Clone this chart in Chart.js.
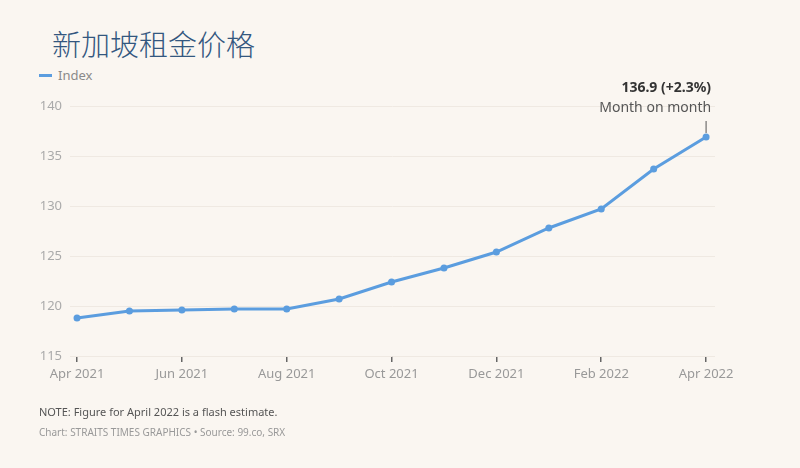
<!DOCTYPE html>
<html>
<head>
<meta charset="utf-8">
<script src="https://cdn.jsdelivr.net/npm/chart.js@4"></script>
<style>
  html, body { margin: 0; padding: 0; background: #faf6f1; }
  #wrap { position: relative; width: 800px; height: 468px; overflow: hidden; }
  #title { position: absolute; left: 52px; top: 22px; font-family: "Noto Sans CJK SC"; font-weight: 300; font-size: 29px; color: #33577f; }
  #legend { position: absolute; left: 39px; top: 66px; font-family: "Noto Sans"; font-size: 13px; color: #8a8a8a; }
  #legend span { display: inline-block; width: 13px; height: 3px; background: #5b9ddf; vertical-align: middle; margin-right: 6px; margin-top: -2px; }
  #note { position: absolute; left: 39px; top: 404px; font-family: "Noto Sans"; font-size: 11px; color: #555; }
  #source { position: absolute; left: 39px; top: 425px; font-family: "Noto Sans"; font-size: 10px; color: #999; }
  canvas { position: absolute; left: 0; top: 0; }
</style>
</head>
<body>
<div id="wrap">
  <div id="title">新加坡租金价格</div>
  <div id="legend"><span></span>Index</div>
  <canvas id="chart" width="800" height="468"></canvas>
  <div id="note">NOTE: Figure for April 2022 is a flash estimate.</div>
  <div id="source">Chart: STRAITS TIMES GRAPHICS • Source: 99.co, SRX</div>
</div>
<script>
const months = ['Apr 2021', 'May 2021', 'Jun 2021', 'Jul 2021', 'Aug 2021', 'Sep 2021', 'Oct 2021',
                'Nov 2021', 'Dec 2021', 'Jan 2022', 'Feb 2022', 'Mar 2022', 'Apr 2022'];
const indexValues = [118.8, 119.5, 119.6, 119.7, 119.7, 120.7, 122.4, 123.8, 125.4, 127.8, 129.7, 133.7, 136.9];
const yTicks = [115, 120, 125, 130, 135, 140];
const lastChange = '+2.3%';

const blue = '#5b9ddf';

const calloutPlugin = {
  id: 'callout',
  afterDatasetsDraw(chart) {
    const ctx = chart.ctx;
    const meta = chart.getDatasetMeta(0);
    const pt = meta.data[meta.data.length - 1];
    ctx.save();
    ctx.strokeStyle = '#555';
    ctx.lineWidth = 1;
    ctx.beginPath();
    ctx.moveTo(pt.x, pt.y - 16);
    ctx.lineTo(pt.x, pt.y - 4);
    ctx.stroke();
    ctx.textAlign = 'right';
    ctx.fillStyle = '#333';
    ctx.font = 'bold 14px "Noto Sans"';
    ctx.fillText(indexValues[indexValues.length - 1].toFixed(1) + ' (' + lastChange + ')', pt.x + 5, pt.y - 45);
    ctx.fillStyle = '#555';
    ctx.font = '14px "Noto Sans"';
    ctx.fillText('Month on month', pt.x + 5, pt.y - 25);
    ctx.restore();
  }
};

new Chart(document.getElementById('chart'), {
  type: 'line',
  data: {
    datasets: [{
      label: 'Index',
      data: indexValues.map((v, i) => ({ x: i, y: v })),
      borderColor: blue,
      backgroundColor: blue,
      borderWidth: 3,
      pointRadius: 3.5,
      pointBorderWidth: 0,
      tension: 0,
      fill: false
    }]
  },
  options: {
    responsive: false,
    animation: false,
    layout: { padding: { left: 20, right: 85, top: 106, bottom: 72 } },
    plugins: { legend: { display: false }, tooltip: { enabled: false } },
    scales: {
      x: {
        type: 'linear',
        min: -0.134,
        max: 12.17,
        afterFit(scale) { scale.height = 40; },
        afterBuildTicks(scale) {
          scale.ticks = months.map((m, i) => ({ value: i })).filter(t => t.value % 2 === 0);
        },
        border: { display: false },
        grid: { drawOnChartArea: false, drawTicks: true, tickLength: 6, color: '#666', lineWidth: 1.5 },
        ticks: {
          autoSkip: false,
          maxRotation: 0,
          padding: 4,
          color: '#999',
          font: { family: 'Noto Sans', size: 13 },
          callback: v => months[v]
        }
      },
      y: {
        min: 115,
        max: 140,
        afterFit(scale) { scale.width = 50; },
        afterBuildTicks(scale) { scale.ticks = yTicks.map(v => ({ value: v })); },
        border: { display: false },
        grid: { drawTicks: false, color: '#efe9e2', lineWidth: 1 },
        ticks: {
          padding: 8,
          color: '#aaa',
          font: { family: 'Noto Sans', size: 13 }
        }
      }
    }
  },
  plugins: [calloutPlugin]
});
</script>
</body>
</html>
